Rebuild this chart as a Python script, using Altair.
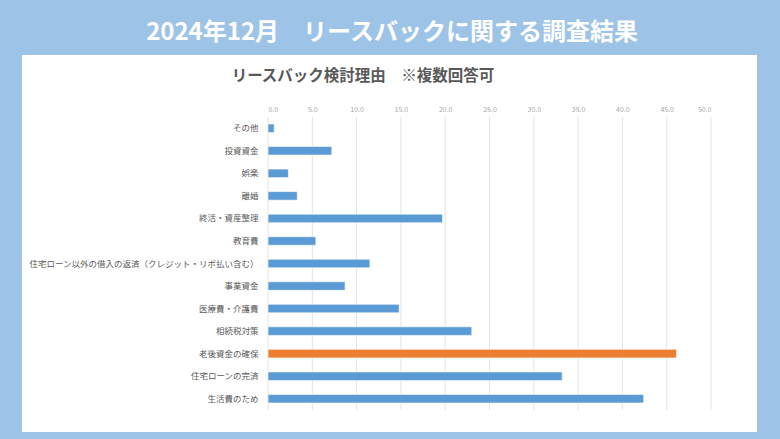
import altair as alt
import pandas as pd

categories = [
    "その他", "投資資金", "娯楽", "離婚", "終活・資産整理", "教育費",
    "住宅ローン以外の借入の返済（クレジット・リボ払い含む）", "事業資金",
    "医療費・介護費", "相続税対策", "老後資金の確保", "住宅ローンの完済", "生活費のため",
]
values = [0.7, 7.2, 2.3, 3.3, 19.7, 5.4, 11.5, 8.7, 14.8, 23.0, 46.1, 33.2, 42.4]
highlight = ["老後資金の確保"]
tick_values = [0, 5, 10, 15, 20, 25, 30, 35, 40, 45, 50]

main_title = "2024年12月　リースバックに関する調査結果"
sub_title = "リースバック検討理由　※複数回答可"

FONT = "Noto Sans CJK JP"
W, H = 443, 293
L, T = 268, 117

df = pd.DataFrame({
    "cat": categories,
    "val": values,
    "col": ["hl" if c in highlight else "base" for c in categories],
})
grid_df = pd.DataFrame({"v": tick_values})

xscale = alt.Scale(domain=[0, 50], nice=False)
x_axis = alt.Axis(orient="top", title=None, values=tick_values, format=".1f",
                  labelFont=FONT, labelFontSize=7, labelColor="#A6A6A6",
                  labelPadding=5, ticks=False, domain=False, grid=False, zindex=1)

panel = alt.Chart(pd.DataFrame({"a": [0]})).mark_rect(
    color="white", clip=False
).encode(
    x=alt.value(22 - L), x2=alt.value(757 - L),
    y=alt.value(55 - T), y2=alt.value(432 - T),
)

grid = alt.Chart(grid_df).mark_rule(color="#E3E3E3", strokeWidth=1).encode(
    x=alt.X("v:Q", scale=xscale, axis=x_axis),
    y=alt.value(0), y2=alt.value(H),
)

bars = alt.Chart(df).mark_bar(
    stroke="#FFFFFF", strokeOpacity=0.6, strokeWidth=1
).encode(
    y=alt.Y("cat:N", sort=categories, scale=alt.Scale(paddingInner=0.62, paddingOuter=0.31),
            axis=alt.Axis(title=None, labelFont=FONT, labelFontSize=8.5, labelColor="#595959",
                          labelPadding=10, ticks=False, domain=False, grid=False,
                          labelLimit=300, zindex=1)),
    x=alt.X("val:Q", scale=xscale, axis=x_axis),
    color=alt.Color("col:N", scale=alt.Scale(domain=["base", "hl"], range=["#5B9BD5", "#ED7D31"]),
                    legend=None),
)

t1 = alt.Chart(pd.DataFrame({"t": [main_title]})).mark_text(
    font=FONT, fontSize=24, fontWeight="bold", color="white", align="center", baseline="middle"
).encode(text="t:N", x=alt.value(392 - L), y=alt.value(33 - T))

t2 = alt.Chart(pd.DataFrame({"t": [sub_title]})).mark_text(
    font=FONT, fontSize=15.5, fontWeight="bold", color="#595959", align="center", baseline="middle"
).encode(text="t:N", x=alt.value(363 - L), y=alt.value(76 - T))

chart = alt.layer(panel, grid, bars, t1, t2).properties(
    width=W, height=H,
    autosize=alt.AutoSizeParams(type="none"),
    padding={"left": L, "top": T, "right": 780 - L - W, "bottom": 439 - T - H},
    background="#9DC3E6",
).configure_view(stroke=None)

chart.save("out.html", embed_options={"renderer": "svg", "actions": False})
